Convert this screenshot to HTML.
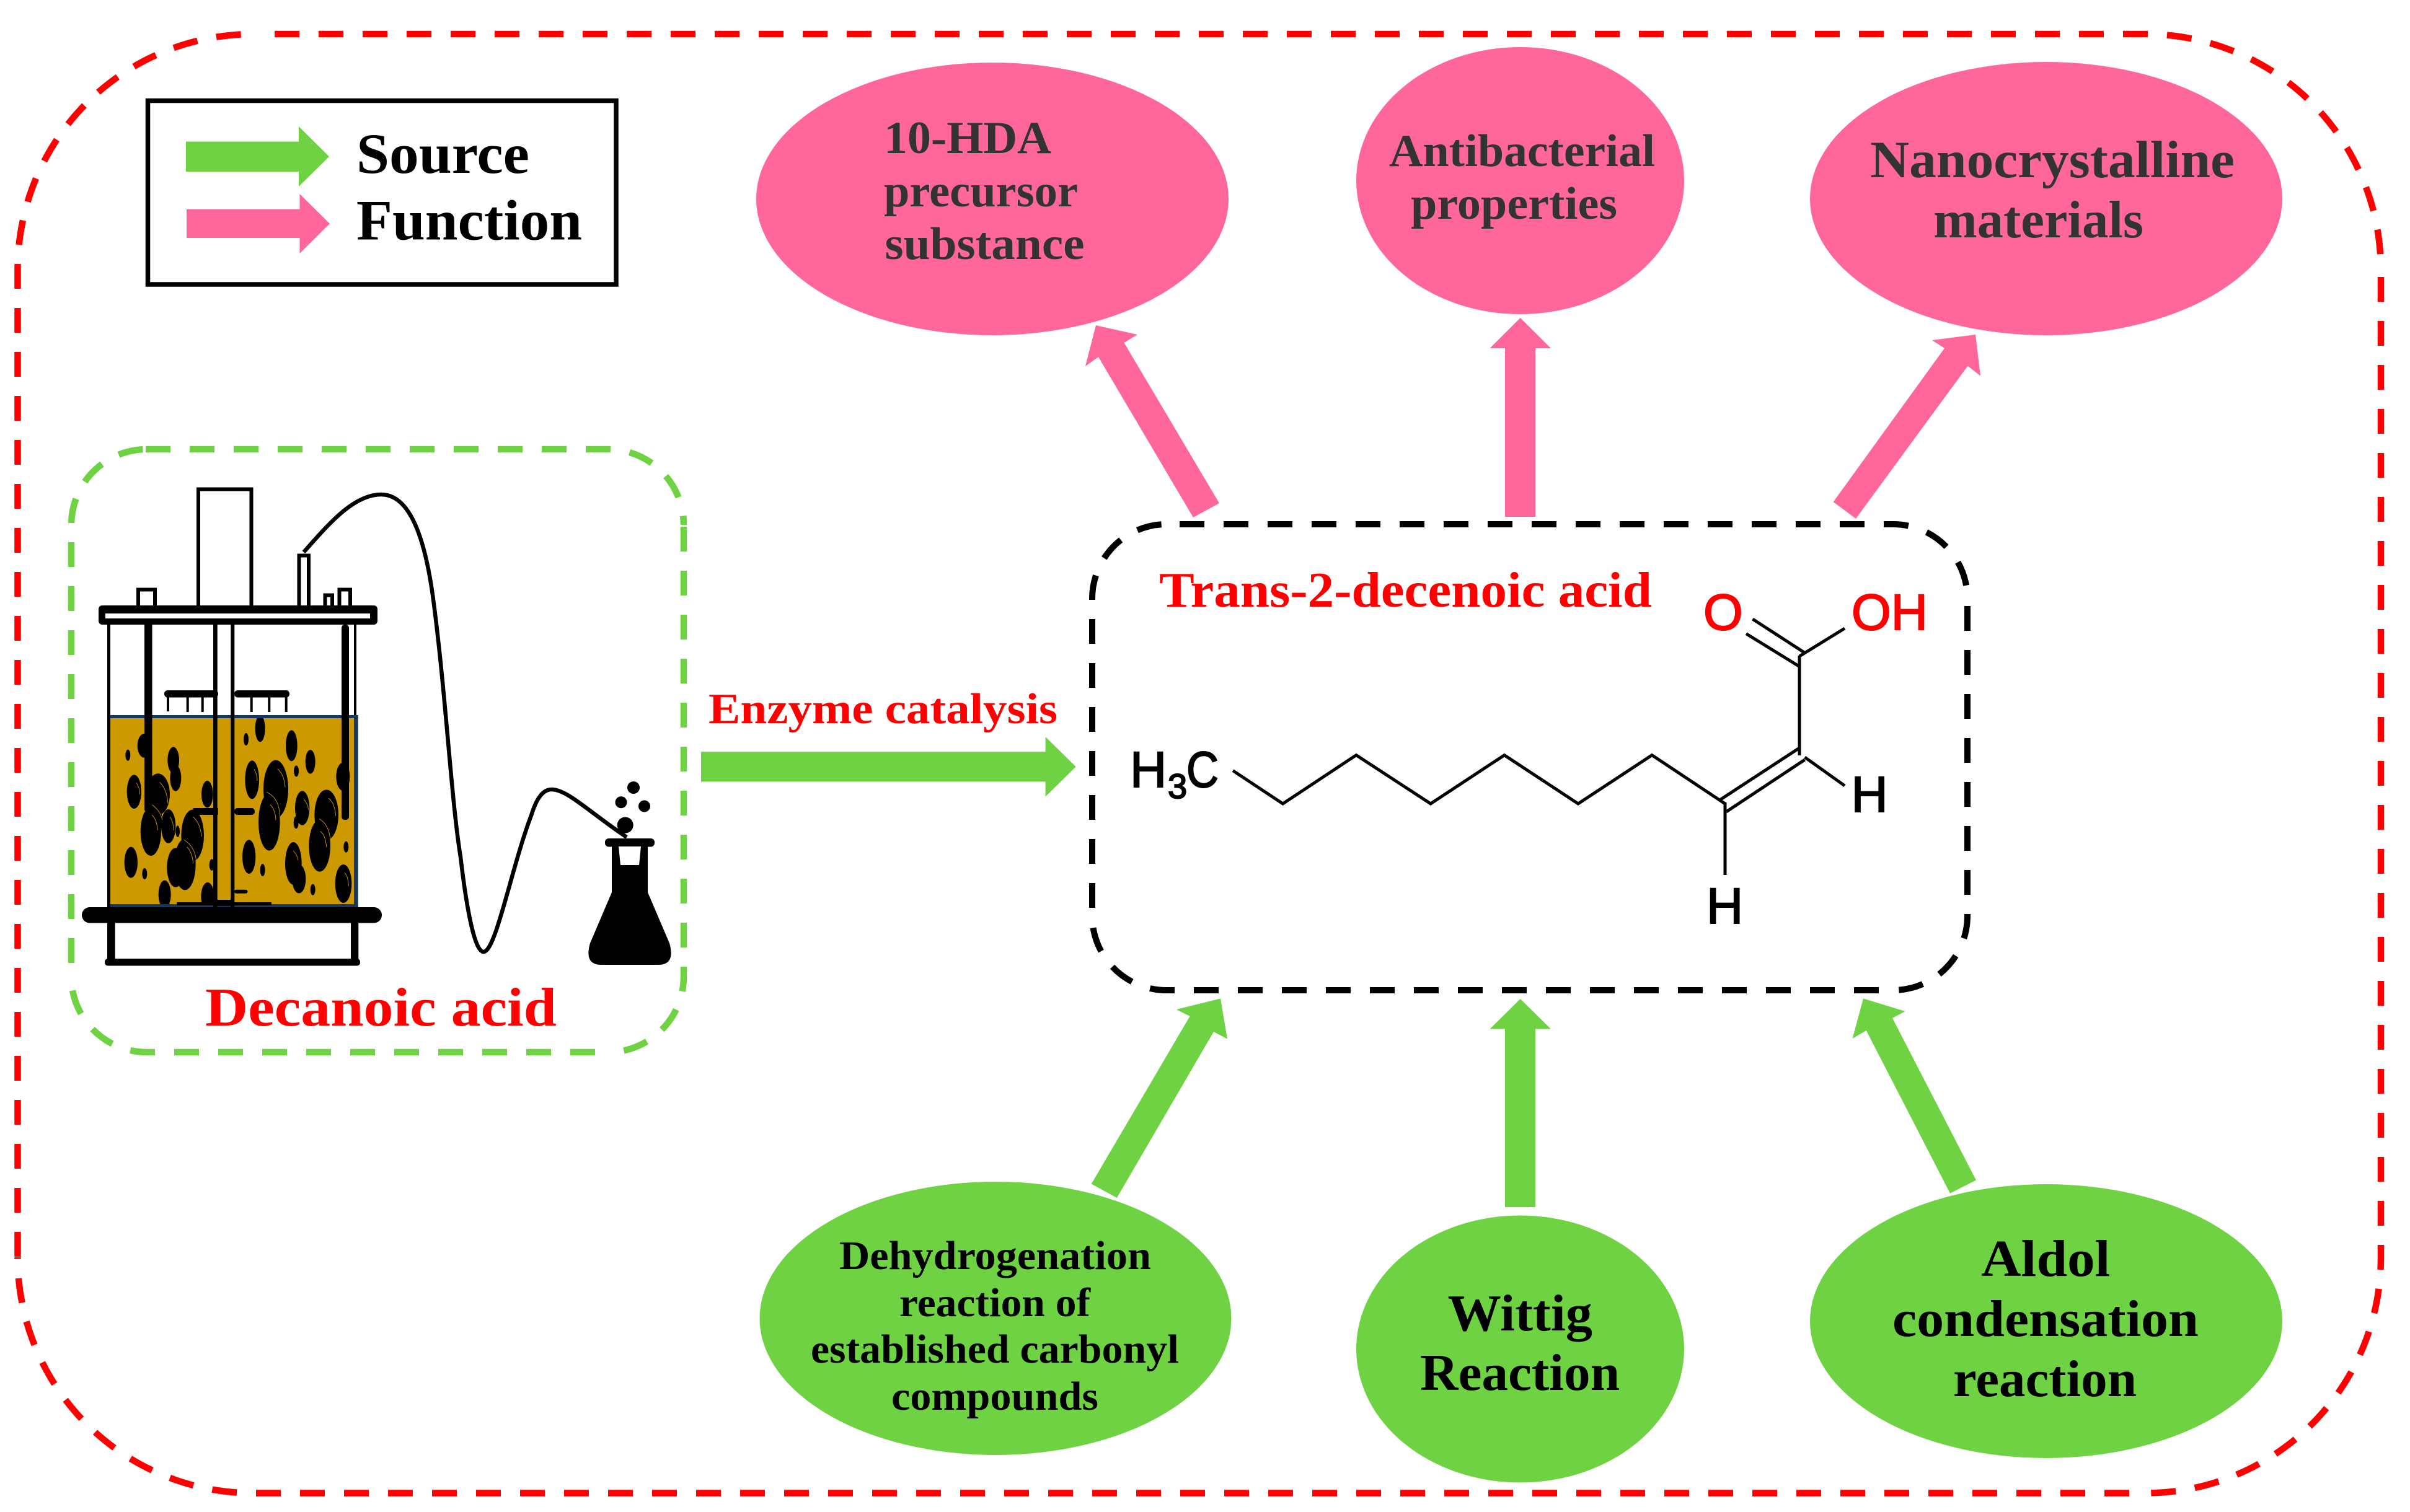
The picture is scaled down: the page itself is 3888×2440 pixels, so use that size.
<!DOCTYPE html>
<html>
<head>
<meta charset="utf-8">
<style>
html,body{margin:0;padding:0;background:#fff;width:3888px;height:2440px;overflow:hidden}
svg{display:block;position:absolute;left:0;top:0}
.s{font-family:"Liberation Serif",serif;font-weight:bold}
.a{font-family:"Liberation Sans",sans-serif}
</style>
</head>
<body>
<svg width="3888" height="2440" viewBox="0 0 3888 2440" xmlns="http://www.w3.org/2000/svg">
<rect width="3888" height="2440" fill="#fff"/>

<!-- outer dashed -->
<g fill="none" stroke="#ff0000" stroke-width="10.5" stroke-dasharray="40 31">
<path d="M443 55H3461A380 380 0 0 1 3841 435"/>
<path d="M3841 447V2029A380 380 0 0 1 3461 2409.5"/>
<path d="M3435 2409.5H409A380 380 0 0 1 28.500 2029"/>
<path d="M28.500 2028V435A380 380 0 0 1 408 55"/>
</g>

<!-- legend -->
<rect x="238.500" y="162.500" width="755.500" height="296.500" fill="#fff" stroke="#000" stroke-width="7.500"/>
<polygon points="300,228.500 482,228.500 482,204 531,252.700 482,301 482,277 300,277" fill="#6fd243"/>
<polygon points="301,337.500 483.500,337.500 483.500,313 532,361 483.500,409 483.500,384 301,384" fill="#ff6699"/>
<text class="s" x="575" y="279" font-size="92" textLength="279" lengthAdjust="spacingAndGlyphs">Source</text>
<text class="s" x="575" y="386.500" font-size="92" textLength="364" lengthAdjust="spacingAndGlyphs">Function</text>

<!-- pink ellipses -->
<ellipse cx="1601" cy="321" rx="381" ry="220" fill="#ff6699"/>
<ellipse cx="2452.500" cy="291.500" rx="264.500" ry="215.500" fill="#ff6699"/>
<ellipse cx="3301" cy="320.500" rx="381" ry="220.500" fill="#ff6699"/>
<g class="s" fill="#333">
<text x="1426" y="247" font-size="74" textLength="270" lengthAdjust="spacingAndGlyphs">10-HDA</text>
<text x="1426" y="333" font-size="74" textLength="313" lengthAdjust="spacingAndGlyphs">precursor</text>
<text x="1427.500" y="418" font-size="74" textLength="322" lengthAdjust="spacingAndGlyphs">substance</text>
<text x="2241" y="268" font-size="74" textLength="429" lengthAdjust="spacingAndGlyphs">Antibacterial</text>
<text x="2276" y="353" font-size="74" textLength="333" lengthAdjust="spacingAndGlyphs">properties</text>
<text x="3017" y="286" font-size="85" textLength="588" lengthAdjust="spacingAndGlyphs">Nanocrystalline</text>
<text x="3119" y="383" font-size="85" textLength="339" lengthAdjust="spacingAndGlyphs">materials</text>
</g>

<!-- pink arrows -->
<g fill="#ff6699">
<polygon points="1925,835 1967,812 1813.400,553 1835,540 1768,525 1751,591 1772,576"/>
<polygon points="2428,834 2477,834 2477,562 2502,562 2452.700,513 2403.600,562 2428,562"/>
<polygon points="2957.600,810 2994,837 3174.500,590.600 3195,606.500 3187,540 3117,549 3137,562"/>
</g>

<!-- green ellipses -->
<ellipse cx="1606" cy="2127.500" rx="380.500" ry="220.500" fill="#6fd243"/>
<ellipse cx="2452.500" cy="2177" rx="264.500" ry="215.500" fill="#6fd243"/>
<ellipse cx="3301" cy="2132" rx="381" ry="221" fill="#6fd243"/>
<g class="s" fill="#000">
<text x="1354" y="2048" font-size="66" textLength="503" lengthAdjust="spacingAndGlyphs">Dehydrogenation</text>
<text x="1451" y="2124" font-size="66" textLength="308" lengthAdjust="spacingAndGlyphs">reaction of</text>
<text x="1308" y="2199" font-size="66" textLength="594" lengthAdjust="spacingAndGlyphs">established carbonyl</text>
<text x="1438" y="2275" font-size="66" textLength="334" lengthAdjust="spacingAndGlyphs">compounds</text>
<text x="2335.500" y="2147" font-size="84" textLength="233.500" lengthAdjust="spacingAndGlyphs">Wittig</text>
<text x="2291" y="2243" font-size="84" textLength="322" lengthAdjust="spacingAndGlyphs">Reaction</text>
<text x="3196" y="2059" font-size="84" textLength="208.500" lengthAdjust="spacingAndGlyphs">Aldol</text>
<text x="3053" y="2156" font-size="84" textLength="494" lengthAdjust="spacingAndGlyphs">condensation</text>
<text x="3151" y="2253" font-size="84" textLength="296" lengthAdjust="spacingAndGlyphs">reaction</text>
</g>

<!-- green arrows -->
<g fill="#6fd243">
<polygon points="1760.700,1910.500 1801.800,1933 1958,1665 1980,1676.600 1969,1611.400 1898,1629 1919.600,1640"/>
<polygon points="2428,1948 2477,1948 2477,1660.500 2502,1660.500 2452.700,1612 2403.600,1660.500 2428,1660.500"/>
<polygon points="3146,1925.700 3188,1904.500 3053,1643 3073.600,1632 3006,1611.400 2988.600,1676 3010.800,1663"/>
<polygon points="1131,1213 1686.600,1213 1686.600,1189 1735.700,1237.400 1686.600,1285.600 1686.600,1261.400 1131,1261.400"/>
</g>
<text class="s" x="1143" y="1167" font-size="70" fill="#ff0000" textLength="563" lengthAdjust="spacingAndGlyphs">Enzyme catalysis</text>

<!-- black dashed box -->
<g fill="none" stroke="#000" stroke-width="10" stroke-dasharray="40 31">
<path d="M1903 846H3054A120 120 0 0 1 3174 966"/>
<path d="M3174 978V1478A120 120 0 0 1 3054 1598"/>
<path d="M3031 1598H1882A120 120 0 0 1 1762 1478"/>
<path d="M1762 1465V966A120 120 0 0 1 1882 846"/>
</g>
<text class="s" x="1870" y="979" font-size="81" fill="#ff0000" textLength="795" lengthAdjust="spacingAndGlyphs">Trans-2-decenoic acid</text>

<!-- molecule -->
<g fill="none" stroke="#000" stroke-width="5">
<polyline points="1989,1243.600 2069.600,1297 2188,1218.600 2308,1297 2427,1218.600 2546,1297 2665,1218.600 2783,1297"/>
<line x1="2776" y1="1290" x2="2903" y2="1207"/>
<line x1="2785" y1="1310" x2="2911.600" y2="1226"/>
<line x1="2903" y1="1058" x2="2903" y2="1219"/>
<line x1="2911.600" y1="1222" x2="2976" y2="1268"/>
<line x1="2827.500" y1="999" x2="2911.600" y2="1053.500"/>
<line x1="2817" y1="1022.600" x2="2903" y2="1075.600"/>
<line x1="2903" y1="1059" x2="2976" y2="1014"/>
<line x1="2783" y1="1295" x2="2783" y2="1412"/>
</g>
<g class="a" font-size="82" fill="#000" stroke="#000" stroke-width="2">
<text x="1823" y="1270">H</text>
<text x="1884" y="1288" font-size="56">3</text>
<text x="1914" y="1270" textLength="52" lengthAdjust="spacingAndGlyphs">C</text>
<text x="2986.500" y="1310">H</text>
<text x="2753" y="1490">H</text>
</g>
<g class="a" font-size="82" fill="#ff0000" stroke="#ff0000" stroke-width="2">
<text x="2748" y="1016">O</text>
<text x="2987" y="1016">OH</text>
</g>

<!-- green dashed box -->
<g fill="none" stroke="#6fd243" stroke-width="10.500" stroke-dasharray="40 31">
<path d="M235 725H981A122 122 0 0 1 1103 847"/>
<path d="M1103 850V1576A122 122 0 0 1 981 1698"/>
<path d="M960 1698H237A122 122 0 0 1 115 1576"/>
<path d="M115 1554V847A122 122 0 0 1 237 725"/>
</g>
<text class="s" x="331" y="1655" font-size="88" fill="#ff0000" textLength="567" lengthAdjust="spacingAndGlyphs">Decanoic acid</text>

<!-- bioreactor -->
<rect x="178" y="1154" width="399.700" height="311" fill="#cc9900"/>
<g transform="translate(165 1110) scale(.33333)">
<g fill="#000">
<ellipse cx="203" cy="280" rx="33" ry="58"/>
<ellipse cx="124" cy="326" rx="12" ry="27"/>
<ellipse cx="344" cy="350" rx="28" ry="64"/>
<ellipse cx="355" cy="437" rx="27" ry="63"/>
<ellipse cx="154" cy="503" rx="35" ry="82"/>
<ellipse cx="270" cy="515" rx="57" ry="100"/>
<ellipse cx="255" cy="640" rx="35" ry="70"/>
<ellipse cx="235" cy="695" rx="50" ry="118"/>
<ellipse cx="320" cy="670" rx="35" ry="82"/>
<ellipse cx="508" cy="515" rx="28" ry="65"/>
<ellipse cx="437" cy="715" rx="55" ry="125"/>
<ellipse cx="400" cy="855" rx="52" ry="124"/>
<ellipse cx="355" cy="870" rx="42" ry="95"/>
<ellipse cx="365" cy="695" rx="10" ry="28"/>
<ellipse cx="139" cy="845" rx="32" ry="75"/>
<ellipse cx="205" cy="900" rx="12" ry="27"/>
<ellipse cx="302" cy="1000" rx="30" ry="68"/>
<ellipse cx="530" cy="857" rx="12" ry="28"/>
<ellipse cx="510" cy="1010" rx="32" ry="68"/>
<ellipse cx="764" cy="197" rx="24" ry="65"/>
<ellipse cx="696" cy="249" rx="12" ry="30"/>
<ellipse cx="916" cy="280" rx="28" ry="75"/>
<ellipse cx="1007" cy="358" rx="24" ry="58"/>
<ellipse cx="939" cy="403" rx="12" ry="27"/>
<ellipse cx="1165" cy="430" rx="33" ry="68"/>
<ellipse cx="725" cy="445" rx="34" ry="93"/>
<ellipse cx="840" cy="490" rx="60" ry="140"/>
<ellipse cx="808" cy="650" rx="52" ry="138"/>
<ellipse cx="968" cy="582" rx="35" ry="83"/>
<ellipse cx="938" cy="652" rx="12" ry="30"/>
<ellipse cx="1085" cy="615" rx="58" ry="122"/>
<ellipse cx="1052" cy="765" rx="52" ry="125"/>
<ellipse cx="710" cy="818" rx="32" ry="82"/>
<ellipse cx="776" cy="882" rx="12" ry="30"/>
<ellipse cx="925" cy="850" rx="40" ry="103"/>
<ellipse cx="952" cy="925" rx="33" ry="70"/>
<ellipse cx="1019" cy="977" rx="12" ry="27"/>
<ellipse cx="1180" cy="770" rx="12" ry="27"/>
<ellipse cx="1167" cy="948" rx="40" ry="93"/>
</g>
<g fill="none" stroke="#b88a10" stroke-width="3">
<path d="M848 392Q880 420 885 480"/>
<path d="M795 505Q855 530 860 620"/>
<path d="M812 565Q838 590 840 640"/>
<path d="M1095 535Q1125 555 1130 620"/>
<path d="M1050 635Q1100 660 1105 750"/>
<path d="M1055 695Q1080 710 1085 770"/>
<path d="M735 395Q750 420 750 450"/>
<path d="M975 540Q995 560 998 590"/>
<path d="M925 790Q945 810 948 835"/>
<path d="M1172 895Q1190 910 1192 960"/>
<path d="M240 565Q285 600 290 640"/>
<path d="M240 615Q265 640 268 690"/>
<path d="M278 457Q312 490 318 560"/>
<path d="M328 625Q345 650 345 690"/>
<path d="M440 625Q475 655 480 720"/>
<path d="M395 735Q450 770 455 840"/>
<path d="M410 770Q435 795 440 850"/>
<path d="M165 460Q180 480 182 515"/>
</g>
</g>
<rect x="178" y="1154" width="399.700" height="5" fill="#17375e"/>
<rect x="178" y="1459" width="399.700" height="6" fill="#17375e"/>
<rect x="571" y="1154" width="6.700" height="311" fill="#17375e"/>
<g fill="#000">
<rect x="173" y="1008" width="5" height="457"/>
<rect x="571" y="1008" width="4" height="146"/>
<rect x="233" y="1008" width="12.500" height="300"/>
<rect x="551" y="1008" width="12" height="315" rx="5"/>
<rect x="344" y="1008" width="6.700" height="457"/>
<rect x="372.300" y="1008" width="6" height="457"/>
<rect x="350" y="1452" width="23" height="10"/>
<rect x="265" y="1114" width="87" height="11.500" rx="5.500"/>
<rect x="378" y="1114" width="89" height="11.500" rx="5.500"/>
<rect x="269" y="1122" width="4" height="26"/>
<rect x="300.700" y="1122" width="4" height="27"/>
<rect x="324.700" y="1122" width="4" height="27"/>
<rect x="403.700" y="1122" width="4" height="27"/>
<rect x="432.300" y="1122" width="4" height="27"/>
<rect x="459.700" y="1122" width="4" height="27"/>
<rect x="311.700" y="1304" width="40" height="11"/>
<rect x="378" y="1304" width="33" height="11" rx="5"/>
<rect x="378" y="1435.700" width="21.500" height="6" rx="3"/>
<rect x="285" y="1456" width="153" height="5"/>
<!-- top plate -->
<rect x="159" y="977" width="450" height="31" rx="6"/>
<!-- base -->
<rect x="132" y="1464" width="484" height="25.500" rx="12.700"/>
<rect x="173" y="1489" width="12.700" height="64"/>
<rect x="566" y="1489" width="12.300" height="64"/>
<rect x="169" y="1547" width="412" height="11.500" rx="5"/>
</g>
<rect x="170" y="990" width="427" height="8" fill="#fff"/>
<g fill="#fff" stroke="#000" stroke-width="6">
<path d="M320 977V789.500H405.500V977"/>
<path d="M223 977V951.500H250V977"/>
<path d="M482.500 977V896.500H498V977"/>
<path d="M524.500 977V960.500H536V977"/>
<path d="M547.500 977V951.500H565V977"/>
</g>

<!-- tube -->
<path d="M490 891C530 846 570 798 615 798C665 798 688 880 700 975C720 1130 728 1290 743 1383C752 1460 765 1536 780 1536C800 1536 825 1400 857 1316C865 1290 875 1274 890 1274C915 1274 950 1310 1011 1351" fill="none" stroke="#000" stroke-width="6.500"/>

<!-- flask -->
<g fill="#000">
<rect x="976" y="1353" width="80" height="13.500" rx="6"/>
<path d="M987 1362H1045V1440L1080 1522Q1090 1557 1062 1557H970Q942 1557 952 1522L987 1440Z"/>
<circle cx="1008.700" cy="1331.500" r="13"/>
<circle cx="1002" cy="1294.700" r="9.500"/>
<circle cx="1039.500" cy="1301" r="9.500"/>
<circle cx="1022" cy="1271" r="10"/>
</g>
<polygon points="998,1366 1034,1366 1031,1396 1001,1396" fill="#fff"/>
</svg>
</body>
</html>
